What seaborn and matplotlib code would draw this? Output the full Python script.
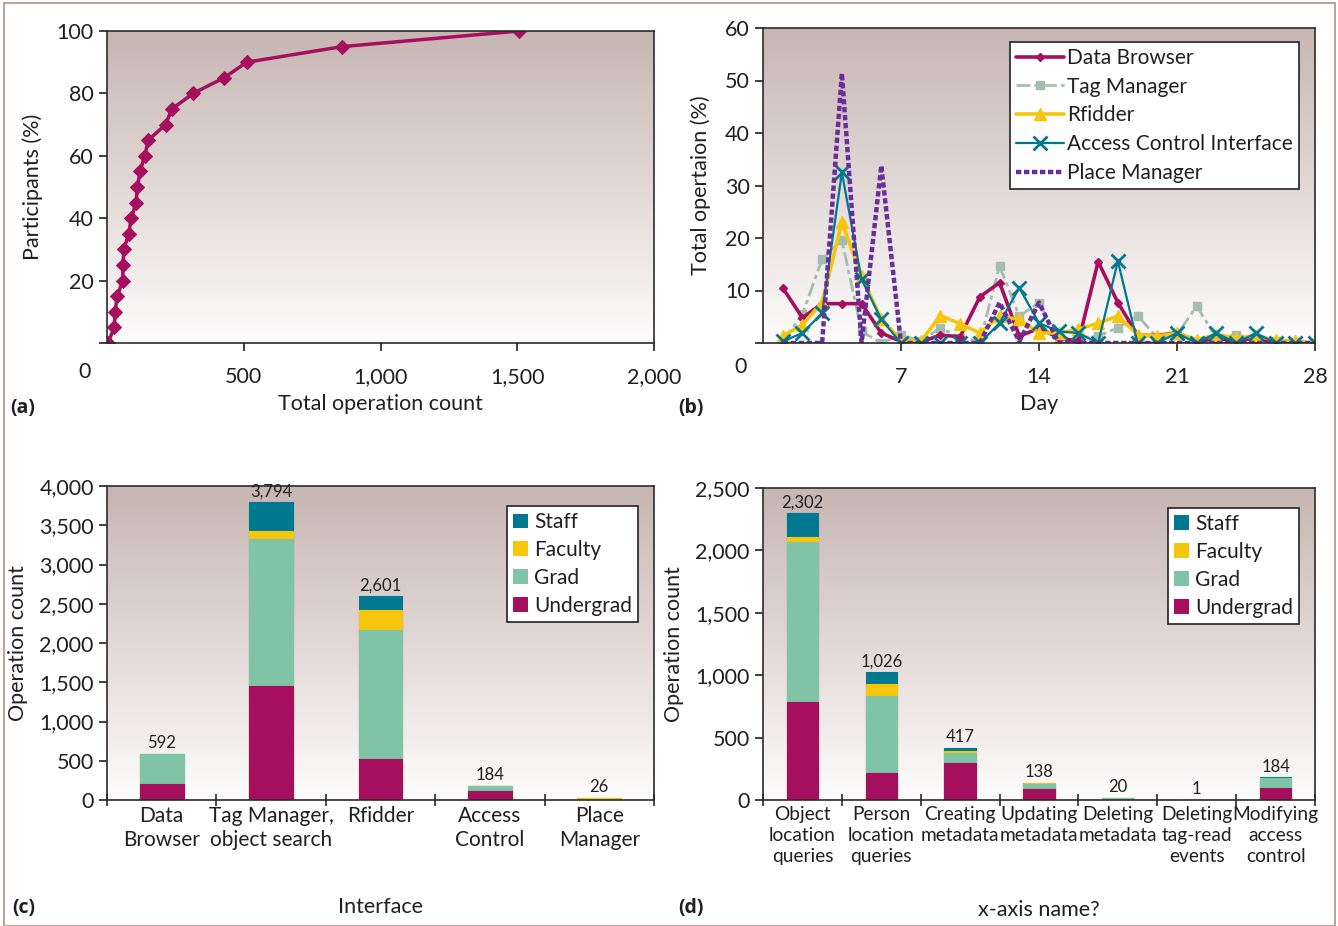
import numpy as np
import pandas as pd
import matplotlib
matplotlib.use("Agg")
import matplotlib.pyplot as plt
from matplotlib.colors import LinearSegmentedColormap
from matplotlib.lines import Line2D
from matplotlib.patches import Rectangle
import seaborn as sns

sns.set_theme(style="white")
plt.rcParams['font.family'] = ['Lato', 'DejaVu Sans']

# ---------------- data ----------------
# (a) cumulative participants vs total operation count
op_count = [4, 26, 30, 37, 58, 58, 62, 79, 89, 106, 111, 121, 138, 151, 214, 237, 315, 428, 511, 860, 1508]
participants = [0, 5, 10, 15, 20, 25, 30, 35, 40, 45, 50, 55, 60, 65, 70, 75, 80, 85, 90, 95, 100]

# (b) daily share of operations per interface
days = list(range(1, 29))
data_browser = [10.5, 4.8, 7.5, 7.5, 7.5, 1.9, 0.3, 0.2, 1.5, 1.2, 8.8, 11.5, 1.3, 2.8, 1.0, 0.3,
                15.5, 7.7, 1.5, 1.4, 2.0, 0.3, 0.8, 0.5, 0.8, 0.2, 0.1, 0.0]
tag_manager = [0.3, 5.5, 16.0, 19.6, 2.2, 0.0, 1.6, 0.3, 2.9, 1.0, 0.3, 14.7, 5.1, 7.7, 0.0, 1.0,
               1.3, 2.9, 5.2, 1.0, 1.6, 7.0, 1.0, 1.6, 0.6, 0.3, 0.1, 0.0]
rfidder = [1.3, 3.5, 7.7, 23.0, 12.8, 4.5, 0.6, 0.3, 5.2, 3.7, 1.9, 5.1, 4.5, 1.9, 1.9, 2.6,
           3.8, 5.1, 1.6, 1.3, 1.9, 0.6, 1.6, 1.0, 1.3, 0.6, 0.3, 0.0]
access_control = [0.3, 1.9, 5.7, 32.5, 12.1, 4.5, 0.0, 0.0, 0.0, 0.0, 0.0, 3.8, 10.5, 3.8, 2.2, 1.9,
                  0.0, 15.6, 0.0, 0.0, 1.9, 0.0, 1.9, 0.0, 1.9, 0.0, 0.0, 0.0]
place_manager = [0.0, 0.0, 0.0, 51.4, 0.0, 33.8, 0.0, 0.0, 0.0, 0.0, 0.0, 7.7, 0.3, 7.7, 0.0, 0.0,
                 0.0, 0.0, 0.0, 0.0, 0.0, 0.0, 0.0, 0.0, 0.0, 0.0, 0.0, 0.0]

# (c) operation count per interface, by group
interfaces = ["Data\nBrowser", "Tag Manager,\nobject search", "Rfidder", "Access\nControl", "Place\nManager"]
c_undergrad = [210, 1450, 520, 110, 6]
c_grad = [370, 1880, 1640, 62, 0]
c_faculty = [7, 95, 255, 6, 20]
c_staff = [5, 369, 186, 6, 0]

# (d) operation count per operation type, by group
operations = ["Object\nlocation\nqueries", "Person\nlocation\nqueries", "Creating\nmetadata",
              "Updating\nmetadata", "Deleting\nmetadata", "Deleting\ntag-read\nevents",
              "Modifying\naccess\ncontrol"]
d_undergrad = [785, 218, 300, 90, 0, 1, 100]
d_grad = [1280, 614, 80, 35, 20, 0, 76]
d_faculty = [45, 100, 12, 10, 0, 0, 2]
d_staff = [192, 94, 25, 3, 0, 0, 6]

# ---------------- style ----------------
MAGENTA = "#a50f5e"
TAGC = "#a3bdb1"
YELLOW = "#f6c60c"
TEAL = "#00788f"
PURPLE = "#6a2e9a"
GRADC = "#80c3a7"
TXT = "#231f20"
W, H = 1338, 926
TICK_FS = 15.5
LAB_FS = 15.5

fig = plt.figure(figsize=(W / 100, H / 100), dpi=100)
fig.patch.set_facecolor("white")
fig.add_artist(Rectangle((4 / W, 0.0), 1 - 7 / W, 1 - 3 / H, transform=fig.transFigure,
                         fill=False, edgecolor="#bba5a1", linewidth=1.5))

cmap = LinearSegmentedColormap.from_list("bg", ["#fdfcfc", "#c7b6b2"])
grad = np.linspace(0, 1, 256).reshape(-1, 1)


def make_axes(l, t, r, b):
    pos = [l / W, 1 - b / H, (r - l) / W, (b - t) / H]
    bg = fig.add_axes(pos, zorder=0)
    bg.imshow(grad, cmap=cmap, aspect="auto", origin="lower", extent=[0, 1, 0, 1])
    bg.axis("off")
    ax = fig.add_axes(pos, zorder=1)
    ax.patch.set_alpha(0)
    for s in ax.spines.values():
        s.set_color("#2b2b2b")
        s.set_linewidth(1.2)
    ax.tick_params(axis="both", labelsize=TICK_FS, colors=TXT, direction="out", length=6, width=1.2,
                   left=True, bottom=True)
    return ax


# ---------------- (a) ----------------
axa = make_axes(107, 31, 654, 343)
sns.lineplot(x=op_count, y=participants, ax=axa, color=MAGENTA, linewidth=2.5, marker="D",
             markersize=7, markeredgecolor=MAGENTA, sort=False, estimator=None)
axa.set_xlim(0, 2000)
axa.set_ylim(0, 100)
axa.set_xticks([500, 1000, 1500, 2000])
axa.set_xticklabels(["500", "1,000", "1,500", "2,000"])
axa.set_yticks([0, 20, 40, 60, 80, 100])
axa.set_yticklabels(["", "20", "40", "60", "80", "100"])
axa.tick_params(axis="x", pad=11)
axa.set_xlabel("Total operation count", fontsize=LAB_FS, color=TXT, labelpad=5)
axa.set_ylabel("Participants (%)", fontsize=LAB_FS, color=TXT, labelpad=10)
fig.text(85 / W, 1 - 372 / H, "0", fontsize=TICK_FS, color=TXT, ha="center", va="center")

# ---------------- (b) ----------------
axb = make_axes(763, 28, 1315, 343)
series = [
    ("Tag Manager", tag_manager, TAGC, "s", 6, 2.0, (5, 1.5, 1.5, 1.5)),
    ("Data Browser", data_browser, MAGENTA, "D", 4.5, 2.6, None),
    ("Rfidder", rfidder, YELLOW, "^", 9, 2.6, None),
    ("Access Control Interface", access_control, TEAL, "x", 10, 1.6, None),
    ("Place Manager", place_manager, PURPLE, None, 0, 3.2, (1.2, 0.6)),
]
handles = {}
for name, vals, col, mk, ms, lw, dsh in series:
    sns.lineplot(x=days, y=vals, ax=axb, color=col, marker=mk, markersize=ms, linewidth=lw,
                 markeredgecolor=col, markeredgewidth=2 if mk == "x" else 1, estimator=None)
    ln = axb.lines[-1]
    if dsh is not None:
        ln.set_dashes(dsh)
    handles[name] = Line2D([], [], color=col, marker=mk, markersize=ms, linewidth=lw,
                           markeredgecolor=col, markeredgewidth=2 if mk == "x" else 1,
                           dashes=dsh if dsh is not None else (None, None))
axb.set_xlim(0, 28)
axb.set_ylim(0, 60)
axb.set_xticks([7, 14, 21, 28])
axb.set_yticks([0, 10, 20, 30, 40, 50, 60])
axb.set_yticklabels(["", "10", "20", "30", "40", "50", "60"])
axb.tick_params(axis="x", pad=11)
axb.set_xlabel("Day", fontsize=LAB_FS, color=TXT, labelpad=5)
axb.set_ylabel("Total opertaion (%)", fontsize=LAB_FS, color=TXT, labelpad=10)
fig.text(741 / W, 1 - 367 / H, "0", fontsize=TICK_FS, color=TXT, ha="center", va="center")
order = ["Data Browser", "Tag Manager", "Rfidder", "Access Control Interface", "Place Manager"]
legb = axb.legend([handles[k] for k in order], order, loc="upper right", fontsize=15,
                  frameon=True, fancybox=False, framealpha=1, edgecolor="#222222",
                  borderpad=0.3, labelspacing=0.42, handlelength=2.3, handletextpad=0.15,
                  bbox_to_anchor=(0.99, 0.99))
legb.get_frame().set_linewidth(1.2)
for t in legb.get_texts():
    t.set_color(TXT)

# ---------------- stacked bars ----------------
GROUP_COLORS = [("Staff", TEAL), ("Faculty", YELLOW), ("Grad", GRADC), ("Undergrad", MAGENTA)]


def stacked(ax, cats, und, grd, fac, stf, ymax, step, fmt, xfs, ls):
    layers = [und, grd, fac, stf]
    cums = np.cumsum(np.array(layers), axis=0)
    names = ["Undergrad", "Grad", "Faculty", "Staff"]
    cols = {"Undergrad": MAGENTA, "Grad": GRADC, "Faculty": YELLOW, "Staff": TEAL}
    # draw from the top-most cumulative layer downwards so lower layers overlay
    for i in range(3, -1, -1):
        df = pd.DataFrame({"cat": cats, "val": cums[i]})
        sns.barplot(data=df, x="cat", y="val", ax=ax, color=cols[names[i]], width=0.4,
                    saturation=1, edgecolor=cols[names[i]], linewidth=0.8)
    totals = cums[-1]
    for i, tot in enumerate(totals):
        ax.text(i, tot + ymax * 0.008, f"{int(tot):,}", ha="center", va="bottom", fontsize=12,
                color=TXT)
    n = len(cats)
    ax.set_xlim(-0.5, n - 0.5)
    ax.set_ylim(0, ymax)
    ax.set_yticks(np.arange(0, ymax + 1, step))
    ax.set_yticklabels([fmt(v) for v in np.arange(0, ymax + 1, step)])
    ax.set_xticks(range(n))
    ax.set_xticklabels(cats, fontsize=xfs, color=TXT, linespacing=ls)
    ax.set_xticks(np.arange(-0.5, n, 1.0), minor=True)
    ax.tick_params(axis="x", which="major", length=0, pad=4)
    ax.tick_params(axis="x", which="minor", length=9, width=1.2, direction="inout",
                   color="#2b2b2b", bottom=True)
    ax.set_ylabel("Operation count", fontsize=LAB_FS, color=TXT, labelpad=8)
    hs = [Rectangle((0, 0), 1, 1, facecolor=c, edgecolor="none") for _, c in GROUP_COLORS]
    leg = ax.legend(hs, [g for g, _ in GROUP_COLORS], loc="upper right", fontsize=15,
                    frameon=True, fancybox=False, framealpha=1, edgecolor="#222222",
                    borderpad=0.3, labelspacing=0.38, handlelength=0.7, handleheight=0.7,
                    handletextpad=0.3, bbox_to_anchor=(0.99, 0.97))
    leg.get_frame().set_linewidth(1.2)
    for t in leg.get_texts():
        t.set_color(TXT)


axc = make_axes(107, 486, 654, 800)
stacked(axc, interfaces, c_undergrad, c_grad, c_faculty, c_staff, 4000, 500,
        lambda v: f"{int(v):,}", 15, 1.25)
axc.set_xlabel("Interface", fontsize=LAB_FS, color=TXT, labelpad=34)

axd = make_axes(763, 488, 1315, 800)
stacked(axd, operations, d_undergrad, d_grad, d_faculty, d_staff, 2500, 500,
        lambda v: f"{int(v):,}", 13.8, 1.3)
axd.set_xlabel("x-axis name?", fontsize=LAB_FS, color=TXT, labelpad=25)

# panel letters
for x, y, s in [(10, 408, "(a)"), (678, 408, "(b)"), (12, 908, "(c)"), (678, 908, "(d)")]:
    fig.text(x / W, 1 - y / H, s, fontsize=14, fontweight="bold", color=TXT, va="center",
             family=["Open Sans", "DejaVu Sans"])

fig.savefig("out.png", dpi=100, facecolor="white")
